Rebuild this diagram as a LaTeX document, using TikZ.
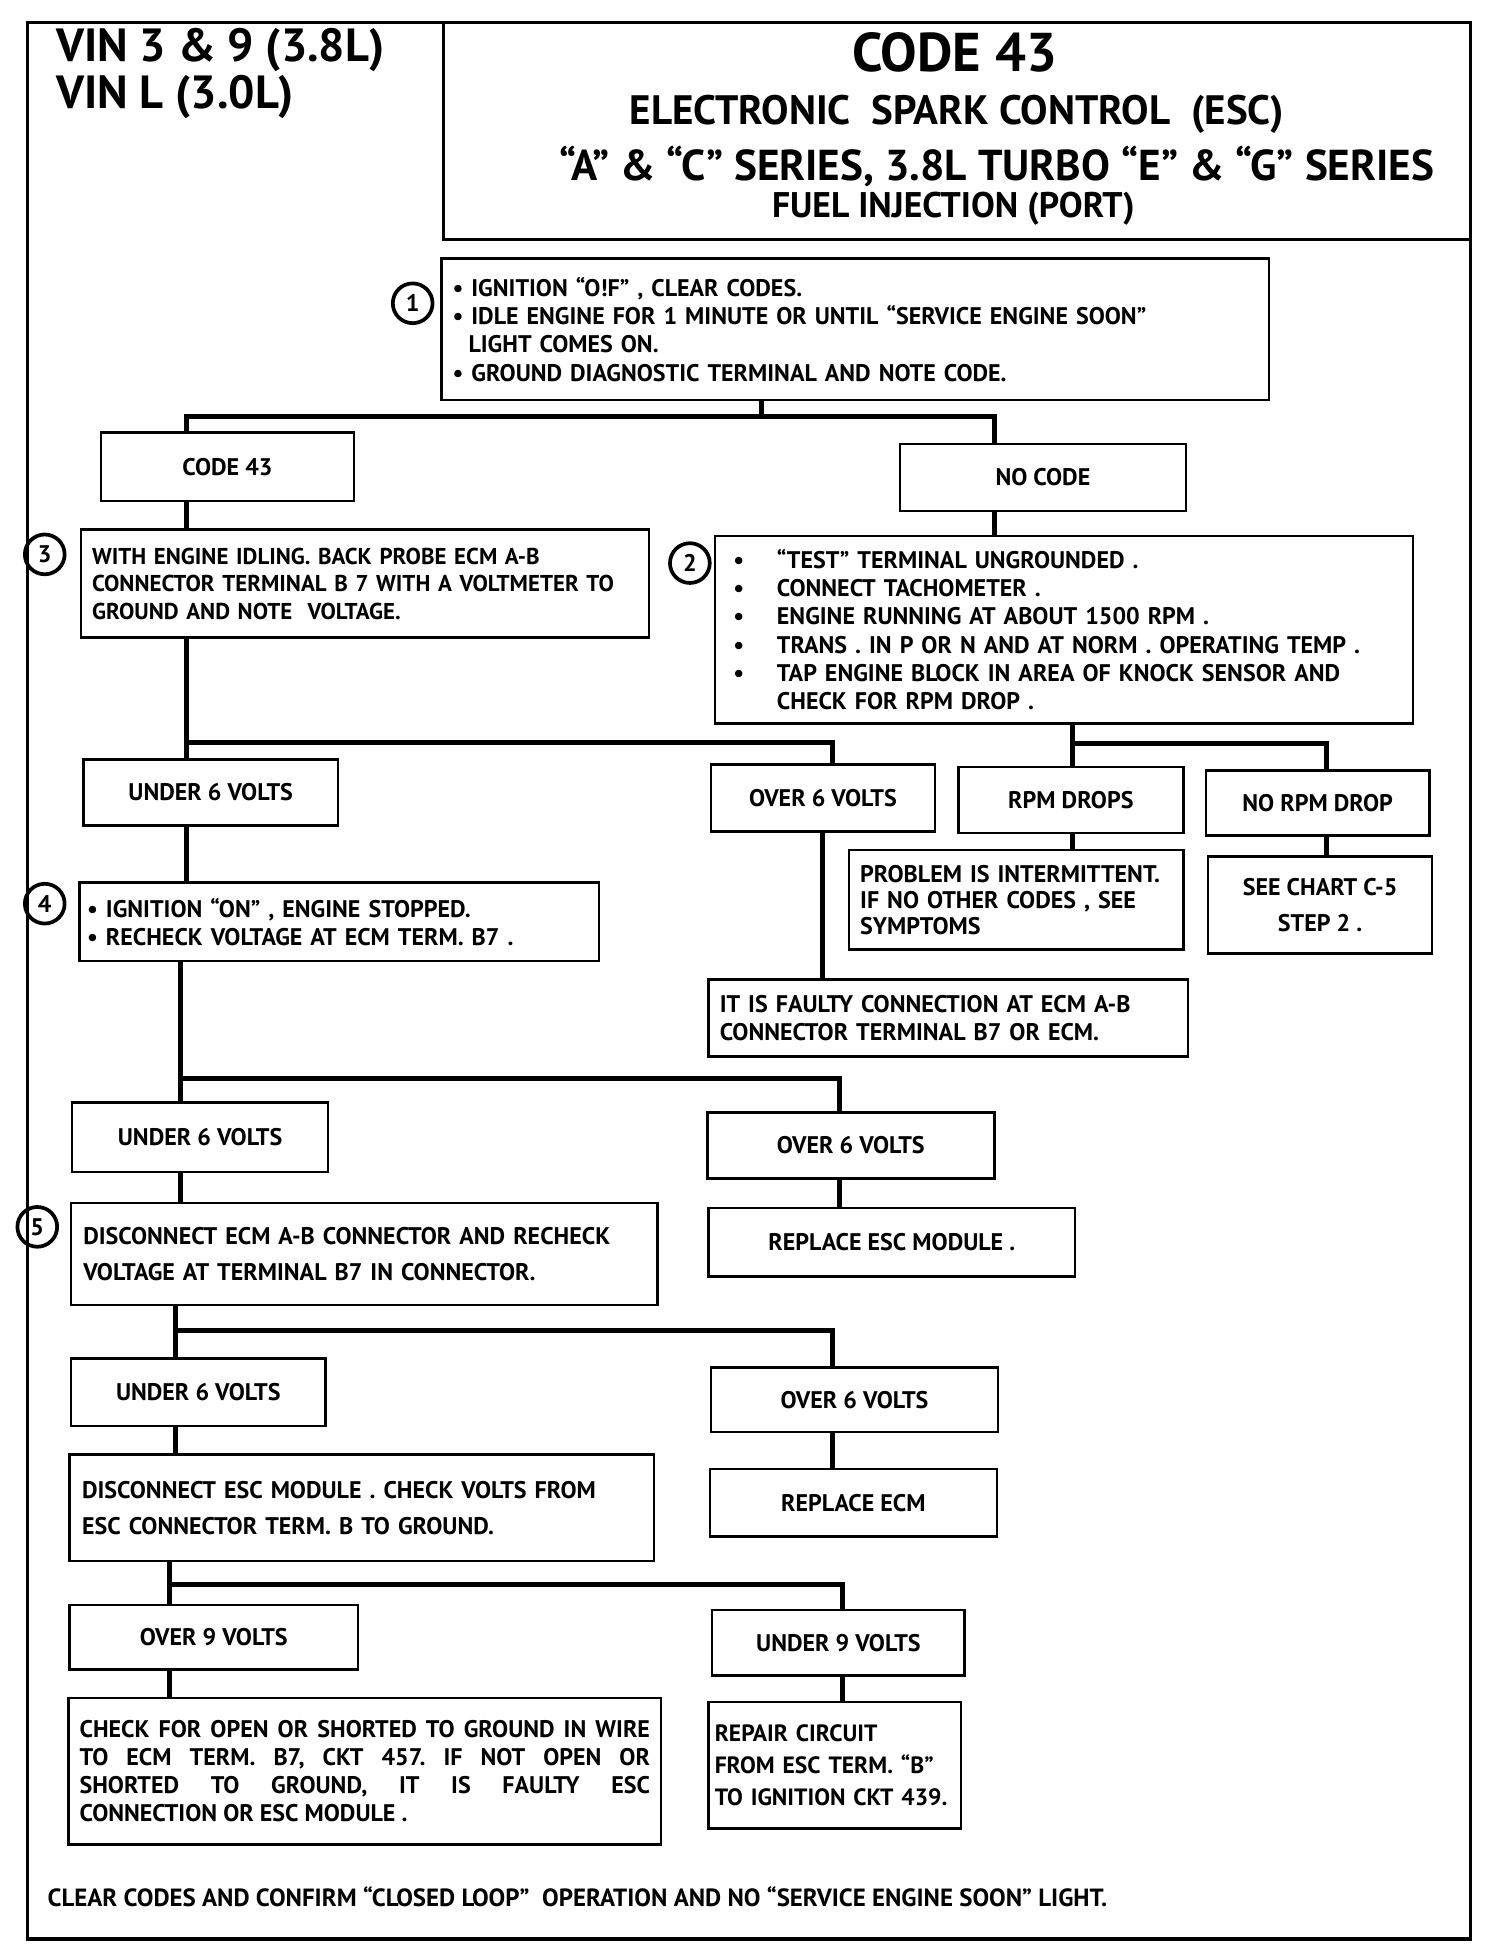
\documentclass[tikz,border=0pt]{standalone}
\usepackage{fontspec}
\setmainfont{PT Sans}
\frenchspacing
\newcommand{\bul}{\makebox[0.7cm][l]{\textbullet}}
\tikzset{
  box/.style={draw,line width=1.1pt,inner ysep=0pt,inner xsep=0pt,
    font=\bfseries\fontsize{11}{12.9}\selectfont,align=center},
  lbox/.style={box,align=left,inner xsep=0.18cm},
  wire/.style={line width=2.3pt},
  stepnum/.style={draw,circle,line width=1.7pt,minimum size=0.64cm,inner sep=0pt,
    font=\bfseries\fontsize{11}{11}\selectfont},
  title/.style={inner sep=0pt,font=\bfseries\fontsize{#1}{#1}\selectfont},
}
\begin{document}
\begin{tikzpicture}[x=0.02cm,y=-0.02cm]
\useasboundingbox (0,0) rectangle (1210,1572);
% frame and title block
\draw[line width=1.6pt] (22,18) rectangle (1183,1560);
\draw[line width=1.4pt] (357,18) -- (357,193) -- (1183,193);
\node[anchor=west,title=21.3] (vin1) at (45,40) {VIN 3 \& 9 (3.8L)};
\node[anchor=west,title=21.3] (vin2) at (45,78) {VIN L (3.0L)};
\node[title=25] (code) at (768,42) {CODE 43};
\node[title=18.8] (esc) at (770,92) {ELECTRONIC\ \ SPARK CONTROL\ \ (ESC)};
\node[title=19.8] (ser) at (802,134) {“A” \& “C” SERIES, 3.8L TURBO “E” \& “G” SERIES};
\node[title=16.3] (fuel) at (767,168) {FUEL INJECTION (PORT)};

% step boxes
\node[lbox,text width=12.96cm,minimum height=2.28cm] (b1) at (688,265)
  {\textbullet\ IGNITION “O!F” , CLEAR CODES.\\
   \textbullet\ IDLE ENGINE FOR 1 MINUTE OR UNTIL “SERVICE ENGINE SOON”\\
   \ \ LIGHT COMES ON.\\
   \textbullet\ GROUND DIAGNOSTIC TERMINAL AND NOTE CODE.};
\node[stepnum] (n1) at (332,244) {1};
\node[box,minimum width=4.08cm,minimum height=1.10cm] (c43) at (183,375.5) {CODE 43};
\node[box,minimum width=4.6cm,minimum height=1.08cm] (nc) at (839,384) {NO CODE};
\node[lbox,text width=8.78cm,minimum height=1.74cm,
  font=\bfseries\fontsize{10.5}{12.6}\selectfont] (b3) at (293.5,469.5)
  {WITH ENGINE IDLING. BACK PROBE ECM A-B\\
   CONNECTOR TERMINAL B 7 WITH A VOLTMETER TO\\
   GROUND AND NOTE\ \ VOLTAGE.};
\node[stepnum] (n3) at (36,446) {3};
\node[lbox,inner xsep=0.3cm,text width=10.64cm,minimum height=3.02cm] (b2) at (856,506.5)
  {\bul “TEST” TERMINAL UNGROUNDED .\\
   \bul CONNECT TACHOMETER .\\
   \bul ENGINE RUNNING AT ABOUT 1500 RPM .\\
   \bul TRANS . IN P OR N AND AT NORM . OPERATING TEMP .\\
   \bul TAP ENGINE BLOCK IN AREA OF KNOCK SENSOR AND\\
   \hspace*{0.7cm}CHECK FOR RPM DROP .};
\node[stepnum] (n2) at (555,453) {2};

\node[box,minimum width=4.10cm,minimum height=1.06cm] (u6a) at (169.5,637.5) {UNDER 6 VOLTS};
\node[box,minimum width=3.6cm,minimum height=1.08cm] (o6a) at (662,642) {OVER 6 VOLTS};
\node[box,minimum width=3.62cm,minimum height=1.06cm] (rpm) at (861.5,643.5) {RPM DROPS};
\node[box,minimum width=3.6cm,minimum height=1.04cm] (norpm) at (1060,646) {NO RPM DROP};
\node[lbox,text width=5.02cm,minimum height=1.6cm,
  font=\bfseries\fontsize{11}{11.8}\selectfont] (prob) at (817.5,724)
  {PROBLEM IS INTERMITTENT.\\IF NO OTHER CODES , SEE\\SYMPTOMS};
\node[box,minimum width=3.6cm,minimum height=1.56cm,
  font=\bfseries\fontsize{11}{16.5}\selectfont] (seec) at (1062,728) {SEE CHART C-5\\STEP 2 .};
\node[lbox,text width=7.36cm,minimum height=1.24cm] (fault) at (763,819)
  {IT IS FAULTY CONNECTION AT ECM A-B\\CONNECTOR TERMINAL B7 OR ECM.};
\node[lbox,inner xsep=0.12cm,text width=8.12cm,minimum height=1.26cm] (b4) at (273,741.5)
  {\textbullet\ IGNITION “ON” , ENGINE STOPPED.\\
   \textbullet\ RECHECK VOLTAGE AT ECM TERM. B7 .};
\node[stepnum] (n4) at (36,727) {4};

\node[box,minimum width=4.12cm,minimum height=1.12cm] (u6b) at (161,915) {UNDER 6 VOLTS};
\node[box,minimum width=4.62cm,minimum height=1.06cm] (o6b) at (684.5,921.5) {OVER 6 VOLTS};
\node[box,minimum width=5.9cm,minimum height=1.1cm] (resc) at (717.5,999.5) {REPLACE ESC MODULE .};
\node[lbox,inner xsep=0.2cm,text width=9.04cm,minimum height=1.64cm,
  font=\bfseries\fontsize{11}{16.5}\selectfont] (b5) at (293,1009)
  {DISCONNECT ECM A-B CONNECTOR AND RECHECK\\VOLTAGE AT TERMINAL B7 IN CONNECTOR.};
\node[stepnum] (n5) at (30,987) {5};

\node[box,minimum width=4.1cm,minimum height=1.08cm] (u6c) at (159.5,1120) {UNDER 6 VOLTS};
\node[box,minimum width=4.62cm,minimum height=1.04cm] (o6c) at (687.5,1126) {OVER 6 VOLTS};
\node[box,minimum width=4.62cm,minimum height=1.08cm] (recm) at (686.5,1209) {REPLACE ECM};
\node[lbox,inner xsep=0.2cm,text width=9.0cm,minimum height=1.72cm,
  font=\bfseries\fontsize{11}{16.5}\selectfont] (b6) at (291,1213)
  {DISCONNECT ESC MODULE . CHECK VOLTS FROM\\ESC CONNECTOR TERM. B TO GROUND.};

\node[box,minimum width=4.64cm,minimum height=1.04cm] (o9) at (172,1317) {OVER 9 VOLTS};
\node[box,minimum width=4.06cm,minimum height=1.06cm] (u9) at (674.5,1321.5) {UNDER 9 VOLTS};
\node[lbox,text width=9.18cm,minimum height=2.36cm,align=justify] (chk) at (293.5,1425)
  {CHECK FOR OPEN OR SHORTED TO GROUND IN WIRE\linebreak
   TO ECM TERM. B7, CKT 457. IF NOT OPEN OR\linebreak
   SHORTED TO GROUND, IT IS FAULTY ESC\linebreak
   CONNECTION OR ESC MODULE .};
\node[lbox,inner xsep=0.1cm,text width=3.86cm,minimum height=2.04cm,
  font=\bfseries\fontsize{10.8}{14.5}\selectfont] (rep) at (671.5,1420)
  {REPAIR CIRCUIT\\FROM ESC TERM. “B”\\TO IGNITION CKT 439.};

\node[anchor=west,inner sep=0pt,font=\bfseries\fontsize{11.4}{12}\selectfont] (foot) at (38,1526)
  {CLEAR CODES AND CONFIRM “CLOSED LOOP”\ \ OPERATION AND NO “SERVICE ENGINE SOON” LIGHT.};

% connectors
\coordinate (j1) at (613,335);
\coordinate (j1l) at (150,335);
\coordinate (j1r) at (800,335);
\draw[wire] (b1.south -| j1) -- (j1);
\draw[wire] (j1l |- c43.north) -- (j1l) -- (j1r) -- (j1r |- nc.north);
\draw[wire] (c43.south -| j1l) -- (j1l |- b3.north);
\draw[wire] (nc.south -| j1r) -- (j1r |- b2.north);

\coordinate (j2l) at (150,597);
\coordinate (j2r) at (670,597);
\draw[wire] (b3.south -| j2l) -- (j2l |- u6a.north);
\draw[wire] (j2l) -- (j2r) -- (j2r |- o6a.north);
\coordinate (j3l) at (863,598);
\coordinate (j3r) at (1067,598);
\draw[wire] (b2.south -| j3l) -- (j3l |- rpm.north);
\draw[wire] (j3l) -- (j3r) -- (j3r |- norpm.north);
\draw[wire] (rpm.south -| j3l) -- (j3l |- prob.north);
\draw[wire] (norpm.south -| j3r) -- (j3r |- seec.north);
\draw[wire] (o6a.south) -- (o6a.south |- fault.north);
\draw[wire] (u6a.south -| j2l) -- (j2l |- b4.north);

\coordinate (j4l) at (145,868);
\coordinate (j4r) at (675,868);
\draw[wire] (b4.south -| j4l) -- (j4l |- u6b.north);
\draw[wire] (j4l) -- (j4r) -- (j4r |- o6b.north);
\draw[wire] (o6b.south -| j4r) -- (j4r |- resc.north);
\draw[wire] (u6b.south -| j4l) -- (j4l |- b5.north);

\coordinate (j5l) at (141,1070);
\coordinate (j5r) at (670,1070);
\draw[wire] (b5.south -| j5l) -- (j5l |- u6c.north);
\draw[wire] (j5l) -- (j5r) -- (j5r |- o6c.north);
\draw[wire] (o6c.south -| j5r) -- (j5r |- recm.north);
\draw[wire] (u6c.south -| j5l) -- (j5l |- b6.north);

\coordinate (j6l) at (136,1275);
\coordinate (j6r) at (678,1275);
\draw[wire] (b6.south -| j6l) -- (j6l |- o9.north);
\draw[wire] (j6l) -- (j6r) -- (j6r |- u9.north);
\draw[wire] (o9.south -| j6l) -- (j6l |- chk.north);
\draw[wire] (u9.south -| j6r) -- (j6r |- rep.north);
\end{tikzpicture}
\end{document}
